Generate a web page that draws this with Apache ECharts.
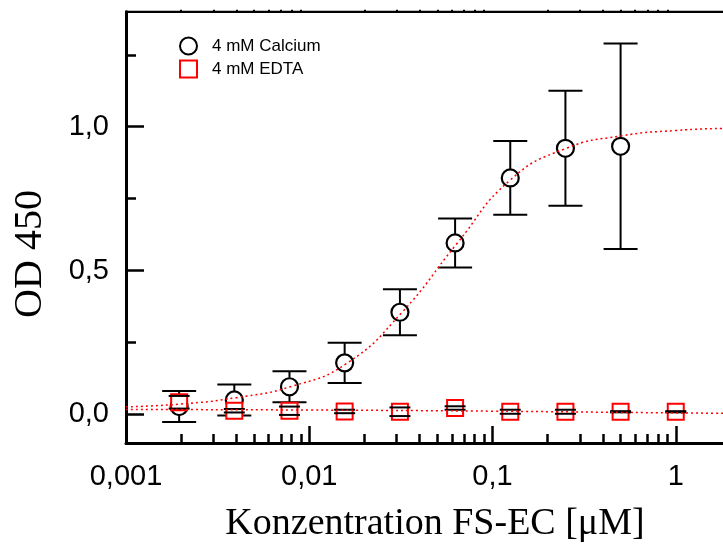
<!DOCTYPE html>
<html>
<head>
<meta charset="utf-8">
<script src="https://cdn.jsdelivr.net/npm/echarts@6/dist/echarts.min.js"></script>
<style>
  html, body { margin: 0; padding: 0; background: #fff; }
  #chart { width: 723px; height: 546px; }
</style>
</head>
<body>
<div id="chart"></div>
<script>
// concentrations (µM), serial 1:2 dilution
const conc = [0.00195, 0.0039, 0.0078, 0.0156, 0.03125, 0.0625, 0.125, 0.25, 0.5, 1];

// 4 mM Calcium: mean OD450 and +/- error (no point at 1 µM)
const calciumMean = [0.027, 0.05, 0.096, 0.179, 0.355, 0.596, 0.822, 0.925, 0.932];
const calciumErr = [0.054, 0.054, 0.054, 0.07, 0.08, 0.085, 0.128, 0.2, 0.357];

// 4 mM EDTA
const edtaMean = [0.042, 0.0125, 0.0125, 0.01, 0.009, 0.022, 0.009, 0.009, 0.009, 0.009];
const edtaErr = [0.022, 0.006, 0.0145, 0.006, 0.015, 0.006, 0.007, 0.007, 0.002, 0.002];

// fitted curves
const calciumFitX = [0.001, 0.002, 0.004, 0.008, 0.016, 0.032, 0.064, 0.125, 0.25, 0.5, 1, 2, 4, 10];
const calciumFitY = [0.026, 0.036, 0.058, 0.097, 0.177, 0.354, 0.594, 0.815, 0.924, 0.968, 0.987, 0.995, 0.998, 1.0];
const edtaFitX = [0.001, 0.01, 0.1, 1, 10];
const edtaFitY = [0.017, 0.015, 0.011, 0.005, 0.0];

// ticks
const xMajorTicks = [0.001, 0.01, 0.1, 1, 10];
const xMinorTicks = [];
[0.001, 0.01, 0.1, 1].forEach(d => { for (let k = 2; k <= 9; k++) xMinorTicks.push(+(d * k).toPrecision(3)); });
const yMajorTicks = [0, 0.5, 1.0];
const yMinorTicks = [0.25, 0.75, 1.25];

const chart = echarts.init(document.getElementById('chart'));

const pairs = (xs, ys) => ys.map((y, i) => [xs[i], y]);
const bars = (xs, ys, es) => ys.map((y, i) => [xs[i], y, y - es[i], y + es[i]]);

// error bar: caps always, vertical stem only outside the symbol
function errorBars(name, data, capHalf, gap, z) {
  return {
    type: 'custom',
    name: name,
    z: z,
    silent: true,
    encode: { x: 0, y: [2, 3] },
    data: data,
    renderItem: (params, api) => {
      const x = api.value(0);
      const c = api.coord([x, api.value(1)]);
      const lo = api.coord([x, api.value(2)]);
      const hi = api.coord([x, api.value(3)]);
      const style = { stroke: '#000', lineWidth: 2 };
      const children = [
        { type: 'line', shape: { x1: lo[0] - capHalf, y1: lo[1], x2: lo[0] + capHalf, y2: lo[1] }, style },
        { type: 'line', shape: { x1: hi[0] - capHalf, y1: hi[1], x2: hi[0] + capHalf, y2: hi[1] }, style }
      ];
      if (lo[1] - c[1] > gap) children.push({ type: 'line', shape: { x1: c[0], y1: c[1] + gap, x2: lo[0], y2: lo[1] }, style });
      if (c[1] - hi[1] > gap) children.push({ type: 'line', shape: { x1: c[0], y1: c[1] - gap, x2: hi[0], y2: hi[1] }, style });
      return { type: 'group', children };
    }
  };
}

const tickFont = { fontFamily: 'Liberation Sans', fontSize: 29, color: '#000' };
const xLog = { type: 'log', logBase: 10, min: 0.001, max: 10, splitLine: { show: false } };
const yLin = { type: 'value', min: -0.1, max: 1.4, splitLine: { show: false } };

chart.setOption({
  animation: false,
  backgroundColor: '#fff',
  grid: {
    left: 126, top: 11.7, width: 733, height: 431.4,
    outerBoundsMode: 'none', containLabel: false,
    show: true, borderColor: '#000', borderWidth: 2
  },
  legend: {
    data: ['4 mM Calcium', '4 mM EDTA'],
    orient: 'vertical',
    left: 179, top: 36.5,
    padding: 0,
    itemWidth: 17, itemHeight: 17, itemGap: 4,
    selectedMode: false,
    textStyle: { fontFamily: 'Liberation Sans', fontSize: 17, color: '#000', padding: [0, 0, 0, 10] }
  },
  xAxis: [
    Object.assign({}, xLog, {
      position: 'bottom',
      axisLine: { onZero: false, lineStyle: { color: '#000', width: 3 } },
      axisTick: { inside: true, length: 17, customValues: xMajorTicks, lineStyle: { color: '#000', width: 2.5 } },
      axisLabel: Object.assign({}, tickFont, {
        customValues: xMajorTicks, margin: 19,
        formatter: v => String(v).replace('.', ',')
      })
    }),
    Object.assign({}, xLog, {
      position: 'bottom',
      axisLine: { show: false, onZero: false },
      axisTick: { inside: true, length: 9, customValues: xMinorTicks, lineStyle: { color: '#000', width: 2.5 } },
      axisLabel: { show: false }
    }),
    Object.assign({}, xLog, {
      position: 'top',
      axisLine: { onZero: false, lineStyle: { color: '#000', width: 2 } },
      axisTick: { inside: false, length: 2, customValues: xMinorTicks, lineStyle: { color: '#000', width: 2 } },
      axisLabel: { show: false }
    })
  ],
  yAxis: [
    Object.assign({}, yLin, {
      position: 'left',
      axisLine: { onZero: false, lineStyle: { color: '#000', width: 3 } },
      axisTick: { inside: true, length: 18, customValues: yMajorTicks, lineStyle: { color: '#000', width: 2.5 } },
      axisLabel: Object.assign({}, tickFont, {
        customValues: yMajorTicks, margin: 17,
        formatter: v => v.toFixed(1).replace('.', ',')
      })
    }),
    Object.assign({}, yLin, {
      position: 'left',
      axisLine: { show: false, onZero: false },
      axisTick: { inside: true, length: 10, customValues: yMinorTicks, lineStyle: { color: '#000', width: 2.5 } },
      axisLabel: { show: false }
    })
  ],
  series: [
    errorBars('ca-err', bars(conc, calciumMean, calciumErr), 17, 9, 1),
    {
      name: '4 mM Calcium',
      type: 'scatter',
      z: 2,
      symbol: 'circle',
      symbolSize: 17,
      itemStyle: { color: '#fff', borderColor: '#000', borderWidth: 2.2, opacity: 1 },
      emphasis: { disabled: true },
      data: pairs(conc, calciumMean)
    },
    {
      name: '4 mM EDTA',
      type: 'scatter',
      z: 3,
      symbol: 'rect',
      symbolSize: 16,
      itemStyle: { color: '#fff', borderColor: '#ff0000', borderWidth: 2, opacity: 1 },
      emphasis: { disabled: true },
      data: pairs(conc, edtaMean)
    },
    errorBars('edta-err', bars(conc, edtaMean, edtaErr), 10.5, 8.5, 4),
    {
      name: 'ca-fit',
      type: 'line',
      z: 5,
      smooth: true,
      showSymbol: false,
      silent: true,
      lineStyle: { color: '#ff0000', width: 1.5, type: [2, 3] },
      data: pairs(calciumFitX, calciumFitY)
    },
    {
      name: 'edta-fit',
      type: 'line',
      z: 5,
      smooth: true,
      showSymbol: false,
      silent: true,
      lineStyle: { color: '#ff0000', width: 1.5, type: [2, 3] },
      data: pairs(edtaFitX, edtaFitY)
    }
  ],
  graphic: [
    {
      type: 'text', x: 435, y: 524,
      style: { text: 'Konzentration FS-EC [μM]', fontFamily: 'Liberation Serif', fontSize: 38, fill: '#000', align: 'center', verticalAlign: 'middle' }
    },
    {
      type: 'text', x: 30, y: 254, rotation: Math.PI / 2,
      style: { text: 'OD 450', fontFamily: 'Liberation Serif', fontSize: 40, fill: '#000', align: 'center', verticalAlign: 'middle' }
    }
  ]
});
window.onresize = () => chart.resize();
</script>
</body>
</html>
